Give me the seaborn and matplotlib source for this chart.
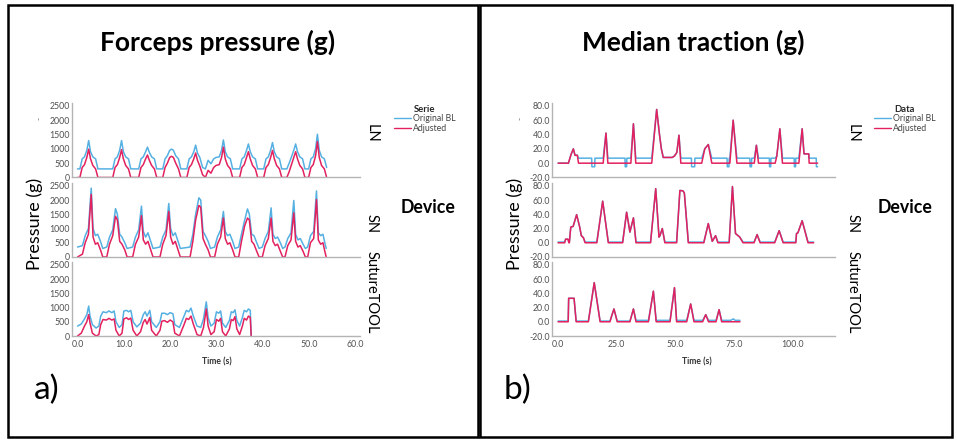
import numpy as np
import pandas as pd
import matplotlib
matplotlib.use('Agg')
import matplotlib.pyplot as plt
import seaborn as sns
from matplotlib.lines import Line2D
from matplotlib.patches import Rectangle

# ---------------- DATA ----------------
series_names = ['Original BL', 'Adjusted']
devices = ['LN', 'SN', 'SutureTOOL']

# Panel a) Forceps pressure (g)
fp_ln_t = [0.0, 0.5, 1.0, 1.5, 2.0, 2.4, 2.8, 3.3, 3.9, 4.4,
           7.6, 8.1, 8.6, 9.1, 9.5, 9.9, 10.4, 11.0, 11.5,
           13.2, 13.7, 14.2, 14.7, 15.1, 15.5, 16.0, 16.6, 17.1,
           18.4, 18.9, 19.4, 19.9, 20.3, 20.7, 21.2, 21.8, 22.3,
           23.6, 24.1, 24.6, 25.1, 25.5, 25.9, 26.4, 27.0, 27.6, 28.2, 28.8, 29.4,
           29.9, 30.6, 31.1, 31.5, 31.9, 32.4, 33.0, 33.5,
           35.0, 35.5, 36.0, 36.5, 36.9, 37.3, 37.8, 38.4, 38.9,
           40.2, 40.7, 41.2, 41.7, 42.1, 42.5, 43.0, 43.6, 44.1,
           45.2, 45.7, 46.2, 46.7, 47.1, 47.5, 48.0, 48.6, 49.1,
           49.9, 50.4, 50.9, 51.4, 51.8, 52.2, 52.7, 53.3, 53.8]
fp_ln_orig = [300, 300, 650, 720, 950, 1290, 900, 720, 650, 300,
              300, 650, 720, 950, 1290, 900, 720, 650, 300,
              300, 650, 720, 900, 1060, 880, 720, 650, 300,
              300, 650, 760, 950, 990, 950, 760, 650, 300,
              300, 650, 720, 900, 1130, 850, 700, 350, 300, 600, 480, 650,
              700, 720, 950, 1310, 900, 720, 650, 300,
              300, 650, 720, 950, 1170, 900, 720, 650, 300,
              300, 650, 720, 950, 1220, 900, 720, 650, 300,
              300, 500, 720, 950, 1170, 900, 720, 650, 300,
              300, 650, 720, 1000, 1510, 950, 720, 650, 350]
fp_ln_adj = [0, 0, 350, 450, 700, 990, 650, 420, 300, 0,
             0, 350, 450, 700, 970, 650, 420, 300, 0,
             0, 350, 450, 650, 785, 600, 420, 300, 0,
             0, 350, 500, 700, 740, 700, 500, 300, 0,
             0, 350, 450, 650, 855, 600, 400, 100, 0, 250, 150, 350,
             420, 450, 700, 1060, 650, 420, 300, 0,
             0, 350, 450, 700, 900, 650, 420, 300, 0,
             0, 350, 450, 700, 945, 650, 420, 300, 0,
             0, 200, 450, 700, 900, 650, 420, 300, 0,
             0, 350, 450, 750, 1255, 700, 420, 300, 0]

fp_sn_t = [0.0, 1.05, 1.65, 2.35, 2.95, 3.35, 3.85, 4.35, 4.95, 5.45,
           6.3, 6.9, 7.6, 8.2, 8.6, 9.1, 9.6, 10.2, 10.7,
           11.9, 12.5, 13.2, 13.8, 14.2, 14.7, 15.2, 15.8, 16.3,
           17.8, 18.4, 19.1, 19.7, 20.1, 20.6, 21.1, 21.7, 22.2,
           24.3, 24.9, 25.5, 26.2, 26.6, 27.1, 27.6, 28.2, 28.7,
           29.6, 30.2, 30.9, 31.5, 31.9, 32.4, 32.9, 33.5, 34.0,
           34.8, 35.4, 36.1, 36.7, 37.1, 37.6, 38.1, 38.7, 39.2,
           39.9, 40.5, 41.2, 41.8, 42.2, 42.7, 43.2, 43.8, 44.3,
           44.8, 45.4, 46.1, 46.7, 47.1, 47.6, 48.1, 48.7, 49.2,
           49.7, 50.3, 51.0, 51.6, 52.0, 52.5, 53.0, 53.4, 53.7]
fp_sn_orig = [350, 400, 750, 1000, 2420, 1000, 750, 800, 550, 300,
              350, 700, 950, 1700, 1500, 800, 700, 500, 300,
              350, 700, 950, 1785, 900, 700, 850, 550, 300,
              350, 700, 950, 1880, 1000, 750, 850, 550, 300,
              350, 800, 1500, 2080, 2000, 900, 750, 550, 300,
              350, 700, 950, 1600, 900, 750, 800, 550, 300,
              350, 800, 1300, 1690, 1500, 800, 750, 500, 300,
              350, 650, 900, 1725, 800, 650, 700, 500, 300,
              350, 650, 850, 1985, 800, 600, 650, 450, 300,
              350, 750, 900, 2320, 850, 750, 800, 500, 300]
fp_sn_adj = [0, 100, 500, 800, 2200, 700, 450, 500, 250, 0,
             0, 450, 750, 1430, 1300, 550, 450, 250, 0,
             0, 450, 700, 1450, 600, 450, 550, 250, 0,
             0, 450, 750, 1600, 700, 450, 550, 250, 0,
             0, 550, 1300, 1810, 1750, 650, 450, 250, 0,
             0, 450, 700, 1370, 650, 450, 500, 250, 0,
             0, 550, 1100, 1370, 1300, 550, 450, 200, 0,
             0, 400, 650, 1370, 550, 400, 450, 200, 0,
             0, 400, 600, 1550, 550, 350, 400, 200, 0,
             0, 500, 650, 2020, 600, 450, 500, 200, 0]

fp_st_t = [0.0, 0.8, 1.5, 2.0, 2.4, 2.7, 3.2, 4.0,
           4.6, 5.0, 5.5, 6.2, 6.8, 7.4, 7.9, 8.3, 9.0,
           9.6, 10.0, 10.6, 11.0, 11.5, 12.0, 12.8,
           13.6, 14.2, 14.6, 15.0, 15.6, 16.0, 17.0,
           17.8, 18.2, 18.8, 19.4, 20.0, 20.6, 21.0, 22.0,
           23.0, 23.5, 24.0, 24.5, 25.0, 25.8, 26.6,
           27.2, 27.8, 28.2, 28.8,
           29.5, 30.0, 30.5, 30.9, 31.3, 32.0,
           32.8, 33.2, 33.6, 34.0, 34.4, 35.0,
           35.6, 36.0, 36.5, 36.9, 37.3, 37.5]
fp_st_orig = [350, 420, 600, 750, 1050, 700, 400, 280,
              350, 700, 850, 820, 880, 820, 880, 500, 300,
              400, 880, 900, 850, 900, 500, 320,
              450, 750, 850, 700, 900, 500, 300,
              500, 800, 800, 750, 820, 780, 400, 300,
              700, 900, 850, 980, 700, 350, 300,
              600, 1200, 650, 350,
              450, 850, 800, 880, 450, 300,
              550, 850, 820, 920, 550, 350,
              650, 900, 850, 950, 900, 0]
fp_st_adj = [0, 100, 350, 500, 750, 450, 100, 0,
             50, 400, 580, 560, 620, 560, 600, 200, 0,
             100, 600, 640, 580, 630, 200, 0,
             150, 480, 580, 420, 650, 200, 0,
             200, 520, 540, 480, 560, 500, 100, 0,
             400, 620, 580, 700, 420, 50, 0,
             300, 950, 350, 50,
             150, 580, 520, 620, 150, 0,
             250, 580, 540, 680, 250, 50,
             350, 620, 560, 700, 650, 0]

# Panel b) Median traction (g)
mt_ln_t = [0.0, 4.4, 5.5, 6.5, 7.2, 8.2, 8.7, 14.3, 14.4, 15.6, 15.7, 19.2, 20.4, 21.2,
           28.5, 28.6, 29.2, 29.3, 31.0, 32.1, 33.1, 39.9, 42.0, 43.2, 44.0, 44.8, 48.6,
           49.6, 50.6, 51.5, 52.3, 56.8, 56.9, 58.2, 58.3, 61.2, 62.5, 64.0, 65.5, 72.0,
           72.1, 72.8, 72.9, 73.2, 74.6, 76.2, 81.7, 81.8, 82.4, 82.5, 83.6, 84.5, 85.4,
           90.0, 90.1, 90.6, 90.7, 92.5, 93.2, 94.5, 95.6, 100.6, 100.7, 101.2, 101.3,
           102.6, 104.0, 104.8, 106.8, 107.0, 110.0, 110.1, 110.6]
mt_ln_orig = [0, 0, 12, 20, 11, 11, 7, 7, -5, -5, 7, 7, 42, 7,
              7, -5, -5, 7, 7, 55, 7, 7, 75, 40, 20, 8, 8,
              10, 15, 39, 7, 7, -5, -5, 7, 7, 20, 26, 7, 7,
              -5, -5, 7, 7, 60, 7, 7, -5, -5, 7, 7, 25, 7,
              7, -5, -5, 7, 7, 10, 48, 7, 7, -5, -5, 7,
              7, 48, 13, 13, 7, 7, -5, -5]
mt_ln_adj = [0, 0, 12, 20, 11, 11, 0, 0, 0, 0, 0, 0, 42, 0,
             0, 0, 0, 0, 0, 55, 0, 0, 75, 40, 20, 8, 8,
             10, 15, 39, 0, 0, 0, 0, 0, 0, 20, 26, 0, 0,
             0, 0, 0, 0, 60, 0, 0, 0, 0, 0, 0, 25, 0,
             0, 0, 0, 0, 0, 10, 48, 0, 0, 0, 0, 0,
             0, 48, 13, 13, 0, 0, 0, 0]

mt_sn_t = [0.0, 2.8, 3.2, 4.2, 4.6, 4.8, 5.4, 6.4, 7.9, 9.2, 9.9, 10.8, 11.5, 16.5,
           19.0, 21.4, 27.5, 29.2, 30.6, 32.1, 33.2, 39.4, 41.6, 43.0, 43.4, 44.4, 45.5,
           50.5, 51.9, 53.2, 53.8, 55.5, 62.1, 64.0, 65.7, 67.1, 68.1, 72.9, 74.3, 75.6,
           77.4, 78.8, 83.5, 84.8, 86.1, 92.3, 94.2, 95.9, 101.3, 101.6, 102.2, 104.0,
           106.5, 108.9]
mt_sn_orig = [1, 1, 5, 5, 1, 1, 22, 23, 39.5, 22, 10, 7, 1, 1,
              58.5, 1, 1, 43, 15, 35, 1, 1, 76, 8, 10, 20, 1,
              1, 73.5, 73, 70, 1, 1, 27, 2, 10, 1, 1, 79, 13,
              8, 1, 1, 11.5, 1, 1, 17, 1, 1, 13, 14, 31,
              1, 1]
mt_sn_adj = [0, 0, 5, 5, 0, 0, 22, 23, 39.5, 22, 10, 7, 0, 0,
             58.5, 0, 0, 43, 15, 35, 0, 0, 76, 8, 10, 20, 0,
             0, 73.5, 73, 70, 0, 0, 27, 2, 10, 0, 0, 79, 13,
             8, 0, 0, 11.5, 0, 0, 17, 0, 0, 13, 14, 31,
             0, 0]

mt_st_t = [0.0, 4.3, 4.5, 6.8, 7.7, 12.9, 15.4, 17.9, 22.1, 23.0, 23.8, 25.2,
           30.6, 32.1, 33.2, 38.5, 40.6, 41.8, 47.7, 49.6, 50.5, 54.8, 56.5, 57.9,
           61.6, 62.9, 64.1, 67.3, 68.6, 69.7, 73.5, 74.7, 75.5, 77.5]
mt_st_orig = [1, 1, 33, 33, 1, 1, 55, 1, 1, 10, 18, 1,
              1, 18, 2, 2, 43, 2, 2, 48, 2, 2, 25, 2,
              2, 10, 2, 2, 17, 2, 2, 4, 2, 2]
mt_st_adj = [0, 0, 33, 33, 0, 0, 55, 0, 0, 10, 18, 0,
             0, 18, 0, 0, 43, 0, 0, 48, 0, 0, 25, 0,
             0, 10, 0, 0, 17, 0, 0, 0, 0, 0]

fp_yticks = [0, 500, 1000, 1500, 2000, 2500]
fp_xticks = [0, 10, 20, 30, 40, 50, 60]
mt_yticks = [-20, 0, 20, 40, 60, 80]
mt_xticks = [0, 25, 50, 75, 100]

# ---------------- STYLE ----------------
sns.set_theme(style='white')
plt.rcParams['font.family'] = ['Lato', 'DejaVu Sans']

W, H = 957, 440
fig = plt.figure(figsize=(W / 100, H / 100), dpi=100)
fig.patch.set_facecolor('white')


def fx(px):
    return px / W


def fy(py):
    return 1 - py / H


BLUE = '#55B0E2'
RED = '#E2215E'
palette = {'Original BL': BLUE, 'Adjusted': RED}
rows_px = [(103, 177.5), (183, 257), (262, 336)]


def make_df(t, orig, adj):
    t = np.asarray(t, float)
    return pd.DataFrame({
        'Time': np.concatenate([t, t]),
        'Value': np.concatenate([np.asarray(orig, float), np.asarray(adj, float)]),
        'Serie': [series_names[0]] * len(t) + [series_names[1]] * len(t),
    })


def draw_panel(data, left_px, right_px, xlim, xticks, ylim, yticks, yfmt):
    for i, (t, orig, adj) in enumerate(data):
        top, bot = rows_px[i]
        ax = fig.add_axes([fx(left_px), fy(bot), (right_px - left_px) / W, (bot - top) / H])
        df = make_df(t, orig, adj)
        sns.lineplot(data=df, x='Time', y='Value', hue='Serie', hue_order=series_names,
                     palette=palette, estimator=None, sort=False, linewidth=1.1,
                     legend=False, ax=ax)
        ax.set_xlim(*xlim)
        ax.set_ylim(*ylim)
        ax.set_yticks(yticks)
        ax.set_yticklabels([yfmt(v) for v in yticks])
        ax.set_xticks(xticks)
        ax.set_xticklabels([f'{v:.1f}' for v in xticks])
        ax.set_xlabel('')
        ax.set_ylabel('')
        for s in ['top', 'right']:
            ax.spines[s].set_visible(False)
        for s in ['left', 'bottom']:
            ax.spines[s].set_color('#b4b4b4')
            ax.spines[s].set_linewidth(1.0)
        ax.tick_params(axis='both', length=0, labelsize=6.3, labelcolor='#505050')
        ax.tick_params(axis='y', pad=1.5)
        ax.tick_params(axis='x', pad=3)
        if i < 2:
            ax.tick_params(axis='x', labelbottom=False)
        ax.set_facecolor('none')
        ax.grid(False)


draw_panel([(fp_ln_t, fp_ln_orig, fp_ln_adj),
            (fp_sn_t, fp_sn_orig, fp_sn_adj),
            (fp_st_t, fp_st_orig, fp_st_adj)],
           72, 360, (-1.2, 61.0), fp_xticks, (0, 2600), fp_yticks, lambda v: f'{v:d}')
draw_panel([(mt_ln_t, mt_ln_orig, mt_ln_adj),
            (mt_sn_t, mt_sn_orig, mt_sn_adj),
            (mt_st_t, mt_st_orig, mt_st_adj)],
           552, 835, (-2.6, 118.0), mt_xticks, (-20, 84), mt_yticks, lambda v: f'{v:.1f}')

# ---------------- TEXT ----------------
fig.text(fx(218), fy(42), 'Forceps pressure (g)', ha='center', va='center',
         fontsize=19, weight='bold', color='black')
fig.text(fx(693), fy(42), 'Median traction (g)', ha='center', va='center',
         fontsize=19, weight='bold', color='black')

for xpx in (35, 515):
    fig.text(fx(xpx), fy(224), 'Pressure (g)', ha='center', va='center',
             rotation=90, fontsize=13, color='black')
for xpx in (39, 520):
    fig.text(fx(xpx), fy(118), '-', ha='center', va='center', rotation=90,
             fontsize=6, color='#555555')

facet_y = [133, 224, 292]
for xpx in (372, 853):
    for lab, ypx in zip(devices, facet_y):
        fig.text(fx(xpx), fy(ypx), lab, ha='center', va='center', rotation=270,
                 fontsize=10.5, color='black')

for xpx in (428, 905):
    fig.text(fx(xpx), fy(207), 'Device', ha='center', va='center',
             fontsize=12.8, weight='bold', color='black')

for xpx in (217, 697):
    fig.text(fx(xpx), fy(362), 'Time (s)', ha='center', va='center',
             fontsize=6.2, weight='bold', color='#333333')

fig.text(fx(47), fy(390), 'a)', ha='center', va='center', fontsize=24, color='black')
fig.text(fx(518), fy(390), 'b)', ha='center', va='center', fontsize=24, color='black')

# ---------------- LEGENDS ----------------
handles = [Line2D([], [], color=BLUE, lw=1.0), Line2D([], [], color=RED, lw=1.0)]
for xpx, title in ((394, 'Serie'), (874, 'Data')):
    fig.legend(handles, series_names, title=title, loc='upper left',
               bbox_to_anchor=(fx(xpx), fy(105)), frameon=False, fontsize=6.3,
               title_fontproperties={'weight': 'bold', 'size': 6.8},
               handlelength=1.9, handletextpad=0.3, labelspacing=0.05,
               borderpad=0, borderaxespad=0, labelcolor='#444444')

# ---------------- PANEL BORDERS ----------------
fig.patches.append(Rectangle((fx(8), fy(437)), (478 - 8) / W, (437 - 5) / H,
                             transform=fig.transFigure, fill=False, lw=1.8, ec='black'))
fig.patches.append(Rectangle((fx(480), fy(437)), (952 - 480) / W, (437 - 5) / H,
                             transform=fig.transFigure, fill=False, lw=1.8, ec='black'))

fig.savefig('out.png', dpi=100)
